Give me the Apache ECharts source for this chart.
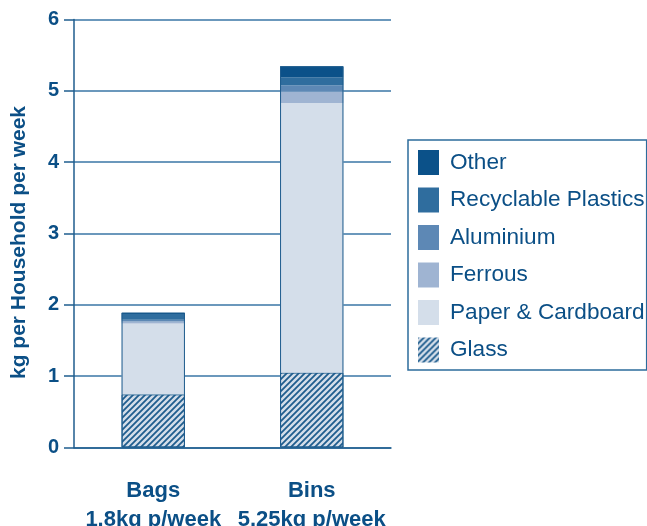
<!DOCTYPE html>
<html>
<head>
<meta charset="utf-8">
<script src="https://cdn.jsdelivr.net/npm/echarts@6/dist/echarts.min.js"></script>
<style>
  html, body { margin: 0; padding: 0; background: #fff; }
  #main { width: 647px; height: 526px; }
</style>
</head>
<body>
<div id="main"></div>
<script>
// categories and their sub labels
var categories = ['Bags', 'Bins'];
var subLabels = ['1.8kg p/week', '5.25kg p/week'];

// kg per household per week, stacked bottom to top
var glass = [0.745, 1.05];
var paper = [0.995, 3.78];
var ferrous = [0.025, 0.16];
var aluminium = [0.025, 0.09];
var plastics = [0.08, 0.11];
var other = [0.02, 0.155];

var yTicks = [0, 1, 2, 3, 4, 5, 6];

var textBlue = '#0b4f86';
var lineBlue = '#1f5d8e';
var font = "'Liberation Sans', Arial, Helvetica, sans-serif";

// hatch for glass
function hatch() {
  var c = document.createElement('canvas');
  c.width = 6; c.height = 6;
  var ctx = c.getContext('2d');
  ctx.fillStyle = '#d4deea';
  ctx.fillRect(0, 0, 6, 6);
  ctx.strokeStyle = lineBlue;
  ctx.lineWidth = 1.8;
  ctx.beginPath();
  ctx.moveTo(-1, 1); ctx.lineTo(1, -1);
  ctx.moveTo(0, 6); ctx.lineTo(6, 0);
  ctx.moveTo(5, 7); ctx.lineTo(7, 5);
  ctx.stroke();
  return c;
}

var totals = categories.map(function (c, i) {
  return glass[i] + paper[i] + ferrous[i] + aluminium[i] + plastics[i] + other[i];
});

function layer(name, data, color, extra) {
  var s = {
    name: name,
    type: 'bar',
    stack: 'waste',
    barWidth: '40%',
    barGap: '-100%',
    data: data,
    itemStyle: { color: color, borderWidth: 0 }
  };
  if (extra) s.itemStyle = Object.assign(s.itemStyle, extra);
  return s;
}

var chart = echarts.init(document.getElementById('main'), null, { renderer: 'canvas' });

var option = {
  animation: false,
  textStyle: { fontFamily: font },
  grid: { left: 74, right: 256, top: 19.5, bottom: 78.5, containLabel: false, outerBoundsMode: 'none' },
  legend: {
    orient: 'vertical',
    left: 408,
    top: 140,
    padding: [10, 2, 7.5, 10],
    borderColor: '#2d6c9c',
    borderWidth: 1.5,
    itemWidth: 21,
    itemHeight: 25,
    itemGap: 12.5,
    icon: 'rect',
    itemStyle: { borderWidth: 0 },
    textStyle: { fontSize: 22.6, color: textBlue, fontFamily: font, padding: [0, 0, 0, 6] },
    data: ['Other', 'Recyclable Plastics', 'Aluminium', 'Ferrous', 'Paper & Cardboard', 'Glass']
  },
  xAxis: {
    type: 'category',
    data: categories,
    axisLine: { lineStyle: { color: lineBlue, width: 1.5 } },
    axisTick: { length: 8, lineStyle: { color: lineBlue, width: 1.5 } },
    axisLabel: {
      interval: 0,
      margin: 29,
      fontSize: 22,
      fontWeight: 'bold',
      lineHeight: 29,
      color: textBlue,
      fontFamily: font,
      formatter: function (v, i) { return v + '\n' + subLabels[i]; }
    }
  },
  yAxis: {
    type: 'value',
    min: yTicks[0],
    max: yTicks[yTicks.length - 1],
    interval: 1,
    name: 'kg per Household per week',
    nameLocation: 'middle',
    nameGap: 44,
    nameTextStyle: {
      fontSize: 21, fontWeight: 'bold', color: textBlue, fontFamily: font,
      padding: [0, 18, 0, 0]
    },
    axisLine: { show: true, lineStyle: { color: lineBlue, width: 1.5 } },
    axisTick: { show: true, length: 10, lineStyle: { color: lineBlue, width: 1.5 } },
    axisLabel: { margin: 15, fontSize: 20, fontWeight: 'bold', color: textBlue, fontFamily: font },
    splitLine: { lineStyle: { color: '#3a76a6', width: 1.5 } }
  },
  series: [
    layer('Glass', glass, { image: hatch(), repeat: 'repeat' }, { borderColor: lineBlue, borderWidth: 1 }),
    layer('Paper & Cardboard', paper, '#d4deea'),
    layer('Ferrous', ferrous, '#9fb4d2'),
    layer('Aluminium', aluminium, '#5d88b5'),
    layer('Recyclable Plastics', plastics, '#2f6d9e'),
    layer('Other', other, '#0b5189'),
    {
      name: 'outline',
      type: 'bar',
      barWidth: '40%',
      barGap: '-100%',
      silent: true,
      z: 3,
      data: totals,
      itemStyle: { color: 'rgba(0,0,0,0)', borderColor: lineBlue, borderWidth: 1 }
    }
  ]
};

chart.setOption(option);
</script>
</body>
</html>
